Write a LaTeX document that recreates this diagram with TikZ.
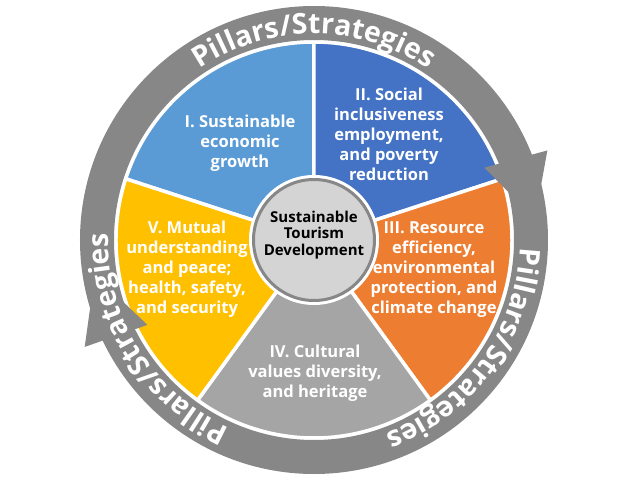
\documentclass[tikz,border=0pt]{standalone}
\usepackage{fontspec}
\setmainfont{Open Sans}
\usetikzlibrary{decorations.text}

\definecolor{pillarI}{HTML}{5B9BD5}
\definecolor{pillarII}{HTML}{4472C4}
\definecolor{pillarIII}{HTML}{ED7D31}
\definecolor{pillarIV}{HTML}{A5A5A5}
\definecolor{pillarV}{HTML}{FFC000}
\definecolor{ringgray}{HTML}{878787}
\definecolor{coregray}{HTML}{D4D4D4}
\newcommand{\ringfont}{\color{white}\bfseries\fontsize{28.5}{28.5}\selectfont}

\begin{document}
\begin{tikzpicture}[x=1pt, y=1pt,
    pillar/.style={text=white, align=center, font=\bfseries\fontsize{16.5}{20}\selectfont},
    ringtext/.style={decorate, decoration={text along path, text={|\ringfont|Pillars/Strategies}, text align=center}}]
    \useasboundingbox (-314,-248) rectangle (308,240);
    % five wedges
    \foreach \a/\c in {90/pillarI, 18/pillarII, -54/pillarIII, -126/pillarIV, 162/pillarV} {
      \filldraw[fill=\c, draw=white, line width=3.5pt, line join=round]
        (0,0) -- (\a:198) arc[start angle=\a, end angle=\a+72, radius=198] -- cycle;
    }
    % ring with two arrow heads
    \fill[ringgray, even odd rule] (0,0) circle[radius=234] (0,0) circle[radius=200];
    \fill[ringgray] (23:185) -- (21:250) -- (5.5:222) -- cycle;
    \fill[ringgray] (207:187) -- (205:253) -- (189:222) -- cycle;
    \path[ringtext] (150:206) arc[start angle=150, end angle=30, radius=206];
    \path[ringtext] (24:206) arc[start angle=24, end angle=-96, radius=206];
    \path[ringtext] (272:206) arc[start angle=272, end angle=152, radius=206];
    % centre
    \fill[white] (0,0) circle[radius=65];
    \node[circle, draw=ringgray, fill=coregray, line width=3pt, minimum size=121pt] (core) at (0,0) {};
    \node[align=center, font=\bfseries\fontsize{15}{16.5}\selectfont] (corelabel) at (0,5)
      {Sustainable\\Tourism\\Development};
    \node[pillar] (p1) at (-74,97) {I. Sustainable\\economic\\growth};
    \node[pillar] (p2) at (75,106) {II. Social\\inclusiveness\\employment,\\and poverty\\reduction};
    \node[pillar] (p3) at (120,-30) {III. Resource\\efficiency,\\environmental\\protection, and\\climate change};
    \node[pillar] (p4) at (1,-133) {IV. Cultural\\values diversity,\\and heritage};
    \node[pillar] (p5) at (-127,-29) {V. Mutual\\understanding\\and peace;\\health, safety,\\and security};
\end{tikzpicture}
\end{document}
